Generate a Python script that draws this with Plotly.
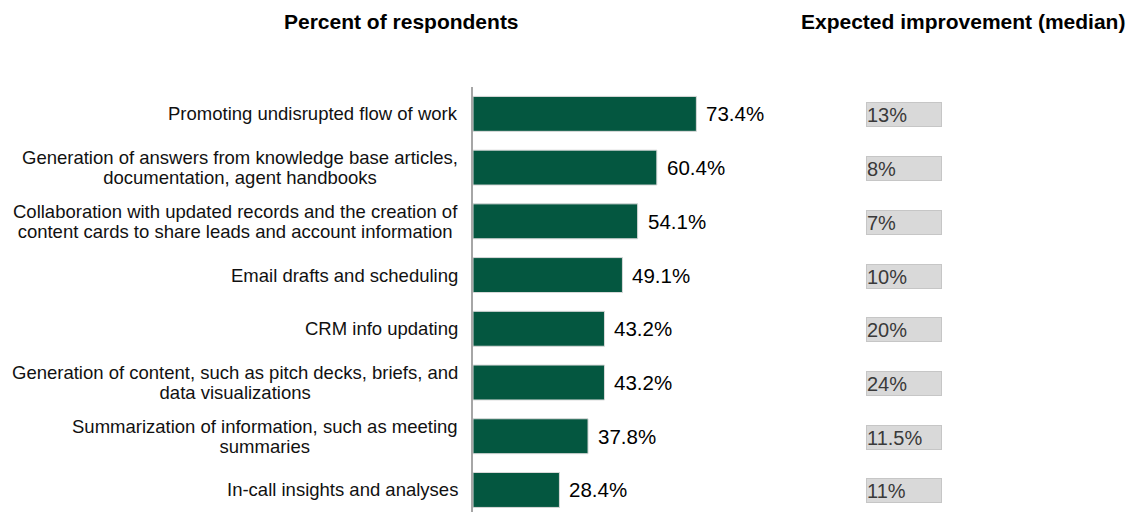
import plotly.graph_objects as go

# Survey results: share of respondents per use case and the median expected improvement
categories = [
    "Promoting undisrupted flow of work",
    "Generation of answers from knowledge base articles,<br>documentation, agent handbooks",
    "Collaboration with updated records and the creation of<br>content cards to share leads and account information",
    "Email drafts and scheduling",
    "CRM info updating",
    "Generation of content, such as pitch decks, briefs, and<br>data visualizations",
    "Summarization of information, such as meeting<br>summaries",
    "In-call insights and analyses",
]
respondents_pct = [73.4, 60.4, 54.1, 49.1, 43.2, 43.2, 37.8, 28.4]
improvement_labels = ["13%", "8%", "7%", "10%", "20%", "24%", "11.5%", "11%"]

FONT = "Liberation Sans, Arial, sans-serif"
GREEN = "#045740"
LABEL_SIZE = 18.5


def tight_lines(text, size=LABEL_SIZE):
    """Wrap each line in a sized span so the base font (smaller) sets a tighter line pitch."""
    return "<br>".join(
        f"<span style='font-size:{size}px'>{line}</span>" for line in text.split("<br>")
    )


fig = go.Figure(
    go.Bar(
        x=respondents_pct,
        y=categories,
        orientation="h",
        marker=dict(color=GREEN, line=dict(color="#d9d9d9", width=1)),
        hoverinfo="skip",
    )
)

annotations = []
for cat, val, imp in zip(categories, respondents_pct, improvement_labels):
    # category label, centred lines, right-aligned block next to the axis
    annotations.append(dict(
        x=0, y=cat, xref="x", yref="y", text=tight_lines(cat), showarrow=False,
        xanchor="right", yanchor="middle", align="center", xshift=-13,
        font=dict(family=FONT, size=15.5, color="#111111"),
    ))
    # value label at the end of the bar
    annotations.append(dict(
        x=val, y=cat, xref="x", yref="y", text=f"{val:.1f}%", showarrow=False,
        xanchor="left", yanchor="middle", xshift=8,
        font=dict(family=FONT, size=20.5, color="#000000"),
    ))
    # expected improvement in a grey box
    annotations.append(dict(
        x=0.5973, y=cat, xref="paper", yref="y", text=imp, showarrow=False,
        xanchor="left", yanchor="middle", align="left", yshift=-1,
        width=74, height=23, borderpad=0, borderwidth=1,
        bgcolor="#d9d9d9", bordercolor="#c6c6c6",
        font=dict(family=FONT, size=20, color="#3a3a3a"),
    ))

# column headings
annotations.append(dict(
    x=-0.1086, y=1.155, xref="paper", yref="paper", text="<b>Percent of respondents</b>",
    showarrow=False, xanchor="center", yanchor="middle",
    font=dict(family=FONT, size=21, color="#000000"),
))
annotations.append(dict(
    x=0.7447, y=1.155, xref="paper", yref="paper", text="<b>Expected improvement (median)</b>",
    showarrow=False, xanchor="center", yanchor="middle",
    font=dict(family=FONT, size=21, color="#000000"),
))

fig.update_layout(
    width=1131, height=512,
    margin=dict(l=473, r=0, t=87, b=0),
    paper_bgcolor="white", plot_bgcolor="white",
    showlegend=False,
    bargap=0.35,
    annotations=annotations,
    xaxis=dict(range=[0, 216.2], visible=False, fixedrange=True),
    yaxis=dict(
        range=[7.41, -0.5], showticklabels=False, ticks="",
        showgrid=False, zeroline=False,
        showline=True, linecolor="#a6a6a6", linewidth=1.5,
        fixedrange=True,
    ),
)

fig.write_html("out.html")
